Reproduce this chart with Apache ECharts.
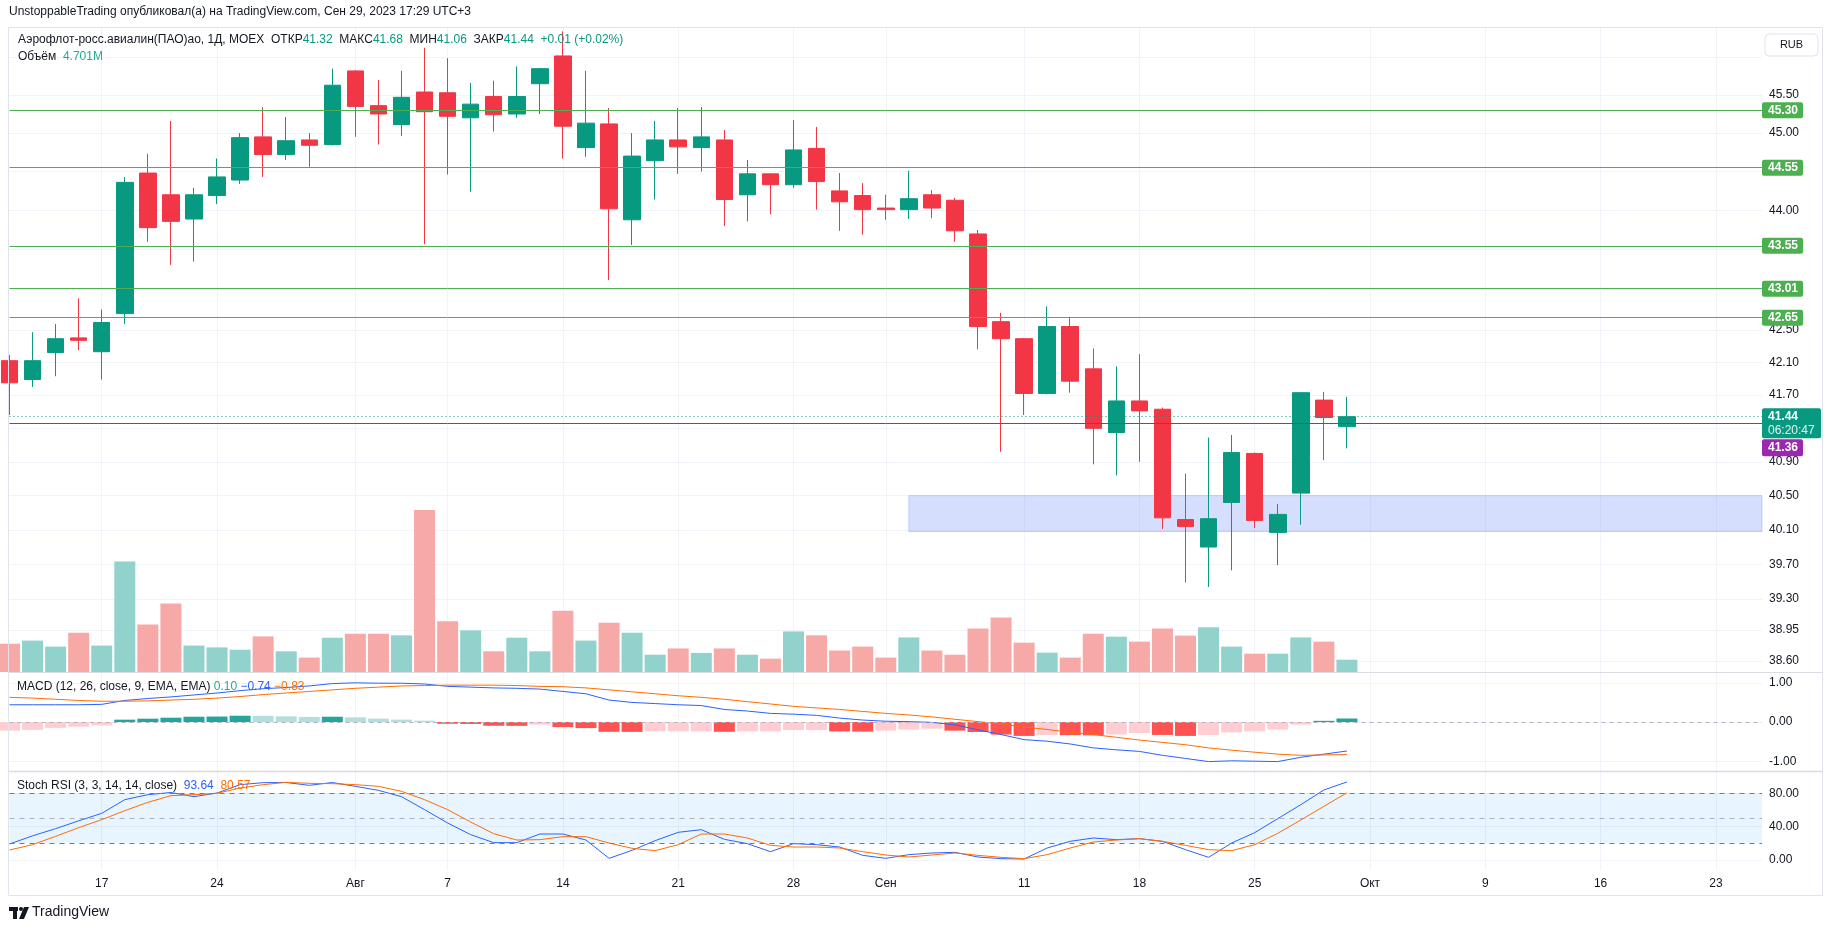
<!DOCTYPE html>
<html>
<head>
<meta charset="utf-8">
<title>AFLT 1D</title>
<script src="https://cdn.jsdelivr.net/npm/echarts@6/dist/echarts.min.js"></script>
<style>
  html, body { margin: 0; padding: 0; background: #fff; }
  #main { width: 1835px; height: 931px; }
</style>
</head>
<body>
<div id="main"></div>
<script>
// торговые дни (MOEX), 11 июл - 29 сен 2023
const days = ['07-11','07-12','07-13','07-14','07-17','07-18','07-19','07-20','07-21','07-24',
  '07-25','07-26','07-27','07-28','07-31','08-01','08-02','08-03','08-04','08-07',
  '08-08','08-09','08-10','08-11','08-14','08-15','08-16','08-17','08-18','08-21',
  '08-22','08-23','08-24','08-25','08-28','08-29','08-30','08-31','09-01','09-04',
  '09-05','09-06','09-07','09-08','09-11','09-12','09-13','09-14','09-15','09-18',
  '09-19','09-20','09-21','09-22','09-25','09-26','09-27','09-28','09-29']

const opens = [42.12, 41.89, 42.22, 42.40, 42.23, 42.70, 44.48, 44.20, 43.89, 44.19,
  44.39, 44.95, 44.72, 44.91, 44.85, 45.82, 45.36, 45.11, 45.54, 45.53,
  45.20, 45.48, 45.25, 45.65, 46.02, 44.81, 45.12, 43.88, 44.64, 44.91,
  44.81, 44.91, 44.20, 44.47, 44.33, 44.80, 44.25, 44.19, 44.03, 44.01,
  44.20, 44.13, 43.70, 42.60, 42.39, 41.72, 42.54, 42.02, 41.25, 41.63,
  41.53, 40.22, 39.90, 40.42, 41.00, 40.07, 40.53, 41.64, 41.32]
const highs = [42.19, 42.47, 42.57, 42.89, 42.75, 44.43, 44.73, 45.16, 44.29, 44.67,
  45.00, 45.34, 45.21, 45.00, 45.85, 45.83, 45.70, 45.82, 46.13, 45.99,
  45.66, 45.69, 45.88, 45.86, 46.35, 45.82, 45.33, 45.00, 45.16, 45.33,
  45.34, 45.04, 44.65, 44.48, 45.17, 45.08, 44.48, 44.35, 44.20, 44.51,
  44.26, 44.16, 43.75, 42.71, 42.40, 42.79, 42.66, 42.27, 42.05, 42.20,
  41.55, 40.76, 41.19, 41.22, 41.01, 40.40, 41.73, 41.74, 41.68]
const lows = [41.46, 41.80, 41.93, 42.25, 41.89, 42.57, 43.60, 43.31, 43.35, 44.08,
  44.34, 44.43, 44.65, 44.56, 44.84, 44.95, 44.85, 44.96, 43.57, 44.46,
  44.24, 45.02, 45.20, 45.25, 44.67, 44.69, 43.12, 43.56, 44.14, 44.47,
  44.50, 43.80, 43.86, 43.95, 44.29, 44.01, 43.74, 43.69, 43.88, 43.89,
  43.90, 43.60, 42.26, 41.02, 41.46, 41.71, 41.73, 40.87, 40.74, 40.90,
  40.11, 39.49, 39.44, 39.63, 40.12, 39.69, 40.16, 40.92, 41.06]
const closes = [41.85, 42.12, 42.39, 42.37, 42.59, 44.36, 43.78, 43.86, 44.20, 44.43,
  44.94, 44.72, 44.90, 44.84, 45.63, 45.35, 45.25, 45.47, 45.28, 45.22,
  45.38, 45.24, 45.48, 45.85, 45.09, 45.13, 44.02, 44.70, 44.91, 44.82,
  44.95, 44.14, 44.47, 44.33, 44.78, 44.37, 44.11, 44.01, 44.01, 44.15,
  44.03, 43.74, 42.54, 42.39, 41.72, 42.54, 41.87, 41.30, 41.63, 41.51,
  40.24, 40.14, 40.23, 41.01, 40.21, 40.28, 41.73, 41.43, 41.44]

// объём, млн
const volumes = [10.8, 12.0, 9.7, 15.0, 10.1, 42.2, 18.1, 26.2, 10.1, 9.4,
  8.5, 13.6, 7.9, 5.5, 13.1, 14.6, 14.6, 14.0, 61.9, 19.4,
  15.9, 7.9, 13.1, 7.9, 23.4, 12.0, 18.8, 15.0, 6.6, 9.0,
  7.3, 9.0, 6.6, 5.1, 15.5, 14.0, 8.2, 9.7, 5.5, 13.2,
  8.2, 6.6, 16.6, 20.8, 11.2, 7.4, 5.5, 14.6, 13.5, 11.6,
  16.6, 13.9, 17.1, 9.7, 7.0, 7.0, 13.2, 11.6, 4.701]

// MACD (12, 26, close, 9)
const macdLine = [0.44, 0.44, 0.44, 0.44, 0.45, 0.55, 0.60, 0.64, 0.69, 0.74,
  0.80, 0.85, 0.88, 0.92, 0.98, 1.00, 0.99, 0.99, 0.97, 0.91,
  0.89, 0.87, 0.86, 0.84, 0.78, 0.72, 0.56, 0.50, 0.47, 0.44,
  0.42, 0.32, 0.28, 0.22, 0.20, 0.17, 0.10, 0.05, 0.02, 0.01,
  -0.01, -0.07, -0.20, -0.32, -0.45, -0.49, -0.56, -0.66, -0.71, -0.75,
  -0.85, -0.93, -1.01, -0.99, -1.00, -1.01, -0.90, -0.82, -0.74]
const signalLine = [0.63, 0.61, 0.58, 0.55, 0.53, 0.53, 0.54, 0.56, 0.58, 0.61,
  0.65, 0.70, 0.74, 0.78, 0.82, 0.86, 0.89, 0.92, 0.93, 0.94,
  0.94, 0.94, 0.93, 0.91, 0.90, 0.87, 0.82, 0.77, 0.72, 0.67,
  0.63, 0.58, 0.52, 0.46, 0.40, 0.36, 0.32, 0.27, 0.22, 0.18,
  0.13, 0.07, 0.01, -0.05, -0.13, -0.19, -0.26, -0.32, -0.39, -0.46,
  -0.52, -0.58, -0.66, -0.72, -0.77, -0.82, -0.85, -0.84, -0.83]
const macdHist = [-0.22, -0.20, -0.15, -0.12, -0.085, 0.06, 0.085, 0.11, 0.135, 0.14,
  0.16, 0.158, 0.145, 0.13, 0.135, 0.12, 0.085, 0.06, 0.035, -0.045,
  -0.05, -0.095, -0.098, -0.07, -0.13, -0.155, -0.25, -0.252, -0.24, -0.24,
  -0.24, -0.25, -0.24, -0.24, -0.205, -0.205, -0.24, -0.245, -0.22, -0.195,
  -0.17, -0.22, -0.255, -0.32, -0.355, -0.33, -0.335, -0.34, -0.32, -0.28,
  -0.33, -0.355, -0.33, -0.265, -0.24, -0.195, -0.07, 0.03, 0.09]

// Stoch RSI (3, 3, 14, 14)
const stochK = [19.2, 29, 37.6, 47, 56, 72.4, 78.4, 81, 76, 80.4,
  90.4, 92.8, 93, 89.6, 93, 88.4, 83.6, 76, 60.4, 44.4,
  30.4, 20.8, 20.8, 31.2, 31.2, 24, 2, 11.6, 23.2, 33.2,
  36.4, 24.8, 19.6, 10, 19.6, 18.4, 15.6, 5.6, 2, 6.4,
  8.4, 9.2, 3.6, 1.6, 1.2, 14.4, 22.4, 26.4, 24.4, 25.6,
  22.4, 12.4, 3.2, 20.4, 32.8, 49.6, 66.4, 84, 93.64]
const stochD = [12, 18.4, 28.4, 38.8, 48.4, 59.2, 69.2, 77.2, 78.4, 80,
  86.4, 90.4, 93.2, 92, 91.6, 90.4, 88.4, 82.4, 72.4, 60.4,
  45.6, 31.6, 24, 24.4, 28, 28, 20.4, 14, 11.2, 18.4,
  31.2, 31.2, 26.4, 17.6, 15.6, 15.6, 14.4, 10, 6, 3.6,
  6, 8.4, 5.6, 3.2, 1.6, 6.4, 14.4, 21.6, 24, 25.6,
  22.4, 17.6, 12.4, 11.2, 18.4, 32, 48, 64.4, 80.57]

// подписи оси времени (индекс бара -> текст)
const tickIndex = [4, 9, 15, 19, 24, 29, 34, 38, 44, 49, 54, 59, 64, 69, 74]
const tickText = ['17', '24', 'Авг', '7', '14', '21', '28', 'Сен', '11', '18', '25', 'Окт', '9', '16', '23']

// шкала цены
const priceTicks = [46.00, 45.50, 45.00, 44.50, 44.00, 43.50, 43.00, 42.50, 42.10, 41.70, 41.30, 40.90, 40.50, 40.10, 39.70, 39.30, 38.95, 38.60]
const priceLabels = [45.50, 45.00, 44.00, 42.50, 42.10, 41.70, 40.90, 40.50, 40.10, 39.70, 39.30, 38.95, 38.60]

// уровни и зона
const levels = [45.30, 44.55, 43.55, 43.01, 42.65]
const lastPrice = 41.44
const purpleLevel = 41.36
const zoneTop = 40.50
const zoneBottom = 40.08
const zoneStart = 39

const FONT = '"Liberation Sans", Arial, sans-serif'
const UP = '#089981'
const DOWN = '#F23645'
const GRID_LINE = '#f0f3fa'
const TEXT = '#131722'

const myChart = echarts.init(document.getElementById('main'))

function xAxisFor (gridIndex, showLabels) {
  return {
    type: 'value',
    gridIndex: gridIndex,
    min: 0,
    max: 76,
    axisLine: { show: false },
    axisTick: { show: false, customValues: tickIndex },
    axisLabel: {
      show: showLabels,
      customValues: tickIndex,
      formatter: function (v) {
        let k = tickIndex.indexOf(Math.round(v))
        return k >= 0 ? tickText[k] : ''
      },
      color: TEXT,
      fontSize: 12,
      fontFamily: FONT,
      margin: 8
    },
    splitLine: { show: true, lineStyle: { color: GRID_LINE, width: 1 } }
  }
}

function rightAxis (gridIndex, min, max, ticks, labels, fmt) {
  return {
    type: 'value',
    gridIndex: gridIndex,
    position: 'right',
    min: min,
    max: max,
    axisLine: { show: false },
    axisTick: { show: false, customValues: ticks },
    axisLabel: {
      customValues: labels,
      formatter: fmt,
      color: TEXT,
      fontSize: 12,
      fontFamily: FONT,
      margin: 7
    },
    splitLine: { show: true, lineStyle: { color: GRID_LINE, width: 1 } }
  }
}

// цена рисуется в логарифмическом масштабе, как на исходном графике
let candleData = days.map(function (d, i) {
  return [i, Math.log(opens[i]), Math.log(closes[i]), Math.log(lows[i]), Math.log(highs[i])]
})
let volData = volumes.map(function (v, i) {
  return { value: [i, v], itemStyle: { color: closes[i] >= opens[i] ? '#92D2CC' : '#F7A9A7' } }
})
let histData = macdHist.map(function (h, i) {
  let prev = i > 0 ? macdHist[i - 1] : h
  let color
  if (h >= 0) {
    color = h > prev ? '#26A69A' : '#B2DFDB'
  } else {
    color = h < prev ? '#FF5252' : '#FFCDD2'
  }
  return { value: [i, h], itemStyle: { color: color } }
})

let levelLines = levels.map(function (p) {
  return { yAxis: Math.log(p), lineStyle: { color: '#4CAF50', width: 1, type: 'solid' } }
})
levelLines.push({ yAxis: Math.log(purpleLevel), lineStyle: { color: '#9C27B0', width: 1, type: 'solid' } })
levelLines.push({ yAxis: Math.log(lastPrice), lineStyle: { color: UP, width: 1, type: [1, 3] } })

myChart.setOption({
  animation: false,
  backgroundColor: '#ffffff',
  grid: [
    { left: 9.5, right: 73, top: 28, height: 644 },
    { left: 9.5, right: 73, top: 672, height: 99 },
    { left: 9.5, right: 73, top: 771, height: 99 }
  ],
  xAxis: [xAxisFor(0, false), xAxisFor(1, false), xAxisFor(2, true)],
  yAxis: [
    rightAxis(0, Math.log(38.477), Math.log(46.395),
      priceTicks.map(Math.log), priceLabels.map(Math.log),
      function (v) { return Math.exp(v).toFixed(2) }),
    { type: 'value', gridIndex: 0, min: 0, max: 246, show: false, splitLine: { show: false } },
    rightAxis(1, -1.25, 1.276, [-1, 0, 1], [-1, 0, 1], function (v) { return v.toFixed(2) }),
    rightAxis(2, -12, 106.8, [0, 40, 80], [0, 40, 80], function (v) { return v.toFixed(2) })
  ],
  series: [
    {
      name: 'Объём',
      type: 'bar',
      xAxisIndex: 0,
      yAxisIndex: 1,
      data: volData,
      barWidth: 21,
      z: 1,
      silent: true
    },
    {
      name: 'AFLT',
      type: 'candlestick',
      xAxisIndex: 0,
      yAxisIndex: 0,
      data: candleData,
      encode: { x: 0, y: [1, 2, 3, 4] },
      barWidth: 17,
      z: 2,
      silent: true,
      itemStyle: {
        color: UP,
        color0: DOWN,
        borderColor: UP,
        borderColor0: DOWN,
        borderWidth: 1
      },
      markLine: {
        silent: true,
        precision: 10,
        symbol: ['none', 'none'],
        label: { show: false },
        data: levelLines
      },
      markArea: {
        silent: true,
        itemStyle: { color: 'rgba(66, 110, 245, 0.22)', borderColor: 'rgba(66, 110, 245, 0.25)', borderWidth: 1 },
        data: [[
          { xAxis: zoneStart, yAxis: Math.log(zoneTop) },
          { xAxis: 76, yAxis: Math.log(zoneBottom) }
        ]]
      }
    },
    {
      name: 'Histogram',
      type: 'bar',
      xAxisIndex: 1,
      yAxisIndex: 2,
      data: histData,
      barWidth: 21,
      silent: true,
      markLine: {
        silent: true,
        symbol: ['none', 'none'],
        label: { show: false },
        lineStyle: { color: '#b2b5be', type: [4, 4], width: 1 },
        data: [{ yAxis: 0 }]
      }
    },
    {
      name: 'MACD',
      type: 'line',
      xAxisIndex: 1,
      yAxisIndex: 2,
      data: macdLine.map(function (v, i) { return [i, v] }),
      showSymbol: false,
      lineStyle: { color: '#2962FF', width: 1 },
      silent: true
    },
    {
      name: 'Signal',
      type: 'line',
      xAxisIndex: 1,
      yAxisIndex: 2,
      data: signalLine.map(function (v, i) { return [i, v] }),
      showSymbol: false,
      lineStyle: { color: '#FF6D00', width: 1 },
      silent: true
    },
    {
      name: 'K',
      type: 'line',
      xAxisIndex: 2,
      yAxisIndex: 3,
      data: stochK.map(function (v, i) { return [i, v] }),
      showSymbol: false,
      lineStyle: { color: '#2962FF', width: 1 },
      silent: true,
      z: 3,
      markArea: {
        silent: true,
        itemStyle: { color: 'rgba(33, 150, 243, 0.1)' },
        data: [[{ yAxis: 20 }, { yAxis: 80 }]]
      },
      markLine: {
        silent: true,
        symbol: ['none', 'none'],
        label: { show: false },
        data: [
          { yAxis: 80, lineStyle: { color: '#787B86', type: [5, 5], width: 1 } },
          { yAxis: 50, lineStyle: { color: 'rgba(120, 123, 134, 0.55)', type: [5, 5], width: 1 } },
          { yAxis: 20, lineStyle: { color: '#787B86', type: [5, 5], width: 1 } }
        ]
      }
    },
    {
      name: 'D',
      type: 'line',
      xAxisIndex: 2,
      yAxisIndex: 3,
      data: stochD.map(function (v, i) { return [i, v] }),
      showSymbol: false,
      lineStyle: { color: '#FF6D00', width: 1 },
      silent: true,
      z: 3
    }
  ]
})

// подписи справа (метки уровней) ставим по шкале графика
function yOf (p) {
  return myChart.convertToPixel({ yAxisIndex: 0 }, Math.log(p))
}
function priceTag (y, h, w, fill, text) {
  return [
    { type: 'rect', shape: { x: 1762, y: y, width: w, height: h, r: 2 }, style: { fill: fill }, z: 50 },
    { type: 'text', x: 1768, y: y + h / 2, z: 51,
      style: { text: text, fill: '#ffffff', font: 'bold 12px ' + FONT, verticalAlign: 'middle', textVerticalAlign: 'middle' } }
  ]
}

let g = []
// рамка и разделители панелей
g.push({ type: 'rect', shape: { x: 8.5, y: 27.5, width: 1814, height: 868 }, style: { fill: 'none', stroke: '#e0e3eb', lineWidth: 1 }, z: 40 })
g.push({ type: 'line', shape: { x1: 9, y1: 672.5, x2: 1822, y2: 672.5 }, style: { stroke: '#d9dce3', lineWidth: 1 }, z: 40 })
g.push({ type: 'line', shape: { x1: 9, y1: 771.5, x2: 1822, y2: 771.5 }, style: { stroke: '#d9dce3', lineWidth: 1.5 }, z: 40 })

levels.forEach(function (p) {
  g = g.concat(priceTag(yOf(p) - 8, 16, 41, '#4CAF50', p.toFixed(2)))
})
let lastY = yOf(lastPrice) - 8.5
g.push({ type: 'rect', shape: { x: 1762, y: lastY, width: 59, height: 30, r: 2 }, style: { fill: UP }, z: 50 })
g.push({ type: 'text', x: 1768, y: lastY + 2, z: 51,
  style: { text: lastPrice.toFixed(2), fill: '#ffffff', font: 'bold 12px ' + FONT } })
g.push({ type: 'text', x: 1768, y: lastY + 16, z: 51,
  style: { text: '06:20:47', fill: '#e6f5f2', font: '12px ' + FONT } })
g = g.concat(priceTag(lastY + 31, 17, 41, '#9C27B0', purpleLevel.toFixed(2)))

// RUB
g.push({ type: 'rect', shape: { x: 1765, y: 34, width: 53, height: 22, r: 4 }, style: { fill: '#ffffff', stroke: '#e0e3eb' }, z: 50 })
g.push({ type: 'text', x: 1791.5, y: 45, z: 51,
  style: { text: 'RUB', fill: TEXT, font: '11px ' + FONT, align: 'center', verticalAlign: 'middle', textAlign: 'center', textVerticalAlign: 'middle' } })

// заголовки
g.push({ type: 'text', x: 9, y: 6, z: 51,
  style: { text: 'UnstoppableTrading опубликовал(а) на TradingView.com, Сен 29, 2023 17:29 UTC+3', fill: TEXT, font: '12px ' + FONT } })
g.push({ type: 'text', x: 18, y: 34, z: 51,
  style: {
    text: '{a|Аэрофлот-росс.авиалин(ПАО)ао, 1Д, MOEX  ОТКР}{b|41.32}{a|  МАКС}{b|41.68}{a|  МИН}{b|41.06}{a|  ЗАКР}{b|41.44}{a|  }{b|+0.01 (+0.02%)}',
    rich: {
      a: { fill: TEXT, font: '12px ' + FONT },
      b: { fill: '#089981', font: '12px ' + FONT }
    }
  } })
g.push({ type: 'text', x: 18, y: 51, z: 51,
  style: {
    text: '{a|Объём  }{b|4.701M}',
    rich: {
      a: { fill: TEXT, font: '12px ' + FONT },
      b: { fill: '#22ab94', font: '12px ' + FONT }
    }
  } })
g.push({ type: 'text', x: 17, y: 681, z: 51,
  style: {
    text: '{a|MACD (12, 26, close, 9, EMA, EMA) }{t|0.10}{a| }{b|−0.74}{a| }{o|−0.83}',
    rich: {
      a: { fill: TEXT, font: '12px ' + FONT },
      t: { fill: '#22ab94', font: '12px ' + FONT },
      b: { fill: '#2962FF', font: '12px ' + FONT },
      o: { fill: '#FF6D00', font: '12px ' + FONT }
    }
  } })
g.push({ type: 'text', x: 17, y: 780, z: 51,
  style: {
    text: '{a|Stoch RSI (3, 3, 14, 14, close)  }{b|93.64}{a|  }{o|80.57}',
    rich: {
      a: { fill: TEXT, font: '12px ' + FONT },
      b: { fill: '#2962FF', font: '12px ' + FONT },
      o: { fill: '#FF6D00', font: '12px ' + FONT }
    }
  } })

// логотип TradingView
g.push({ type: 'rect', shape: { x: 9, y: 907, width: 9, height: 4 }, style: { fill: TEXT }, z: 51 })
g.push({ type: 'rect', shape: { x: 13, y: 907, width: 4, height: 12 }, style: { fill: TEXT }, z: 51 })
g.push({ type: 'circle', shape: { cx: 21, cy: 909, r: 2 }, style: { fill: TEXT }, z: 51 })
g.push({ type: 'polygon', shape: { points: [[24, 907], [29, 907], [24, 919], [19, 919]] }, style: { fill: TEXT }, z: 51 })
g.push({ type: 'text', x: 32, y: 905, z: 51,
  style: { text: 'TradingView', fill: TEXT, font: '14px ' + FONT } })

myChart.setOption({ graphic: g })
window.onresize = myChart.resize
</script>
</body>
</html>
